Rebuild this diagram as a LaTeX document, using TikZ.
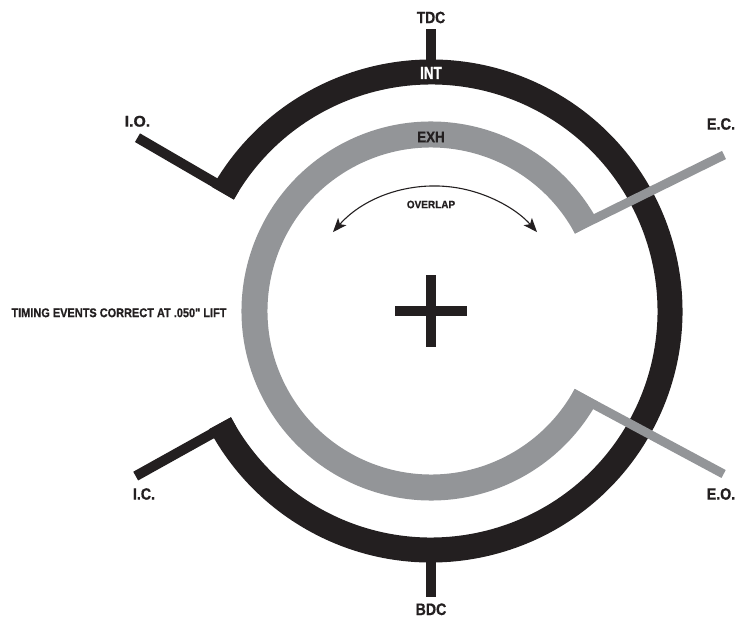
\documentclass[tikz,border=0pt]{standalone}
\usepackage{fontspec}
\usepackage{graphicx}
\setmainfont{Liberation Sans}[Ligatures=TeXOff, BoldFeatures={FakeBold=0.9}]
\usetikzlibrary{arrows.meta}
\definecolor{ink}{HTML}{231F20}
\definecolor{exhgray}{HTML}{939598}
\newcommand{\fitlabel}[3]{\resizebox{#1pt}{#2pt}{\bfseries #3}}
\begin{document}
\begin{tikzpicture}[x=1pt,y=1pt,
  lbl/.style={inner sep=0pt, outer sep=0pt, text=ink},
  blackband/.style={draw=ink, line width=25pt, line cap=butt},
  grayband/.style={draw=exhgray, line width=26pt, line cap=butt},
  blackflag/.style={draw=ink, line width=10pt, line cap=butt},
  grayflag/.style={draw=exhgray, line width=9pt, line cap=butt},
  tickbar/.style={draw=ink, line width=10pt, line cap=butt},
  overlaparrow/.style={draw=ink, line width=1.1pt,
    {Stealth[length=14pt,width=11pt,inset=3.5pt]}-{Stealth[length=14pt,width=11pt,inset=3.5pt]}}]
\useasboundingbox (-431,-307) rectangle (307,311);
\fill[white] (-431,-307) rectangle (307,311);

% named coordinates
\coordinate (center) at (0,0);
\coordinate (tdcIn) at (0,245);
\coordinate (tdcOut) at (0,282);
\coordinate (bdcIn) at (0,-245);
\coordinate (bdcOut) at (0,-286);
\coordinate (ioS) at (-194.6,115.8);
\coordinate (ioE) at (-293.5,173.3);
\coordinate (icS) at (-197.6,-110.7);
\coordinate (icE) at (-295.3,-165.1);
\coordinate (ecS) at (141.9,81.5);
\coordinate (ecE) at (293,156);
\coordinate (eoS) at (141.6,-82.0);
\coordinate (eoE) at (292.6,-163.0);
\coordinate (ovC) at (4,-11);

% intake (black) ring
\path[blackband] (150.5:239) arc[start angle=150.5, end angle=-152, radius=239];
\path[tickbar] (tdcIn) -- (tdcOut);
\path[tickbar] (bdcIn) -- (bdcOut);
\path[blackflag] (ioS) -- (ioE);
\path[blackflag] (icS) -- (icE);

% exhaust (gray) ring
\path[grayband] (28.3:176.5) arc[start angle=28.3, end angle=331.5, radius=176.5];
\path[grayflag] (ecS) -- (ecE);
\path[grayflag] (eoS) -- (eoE);

% centre cross
\path[tickbar] (-36,0) -- (36,0);
\path[tickbar] (0,-35.5) -- (0,35.5);

% overlap arrow
\path[overlaparrow] ([shift={(138.6:136)}]ovC) arc[start angle=138.6, end angle=41.4, radius=136];

% labels
\node[lbl] (tdc) at (0,293.5) {\fitlabel{28.3}{11.4}{TDC}};
\node[lbl, text=white] (int) at (0,238) {\fitlabel{21.7}{12}{INT}};
\node[lbl] (exh) at (0,174) {\fitlabel{27.3}{10.4}{EXH}};
\node[lbl] (io) at (-293.5,189.7) {\fitlabel{25.5}{10.8}{I.O.}};
\node[lbl] (ec) at (290,187) {\fitlabel{28.3}{11.4}{E.C.}};
\node[lbl] (ic) at (-287,-183) {\fitlabel{22}{11.4}{I.C.}};
\node[lbl] (eo) at (290,-183) {\fitlabel{28.3}{11.4}{E.O.}};
\node[lbl] (bdc) at (0,-298.3) {\fitlabel{30.7}{11.6}{BDC}};
\node[lbl] (timing) at (-312,-1.8) {\fitlabel{215}{8.8}{TIMING EVENTS CORRECT AT .050" LIFT}};
\node[lbl] (overlap) at (0,106.5) {\fitlabel{48.3}{7.5}{OVERLAP}};
\end{tikzpicture}
\end{document}
